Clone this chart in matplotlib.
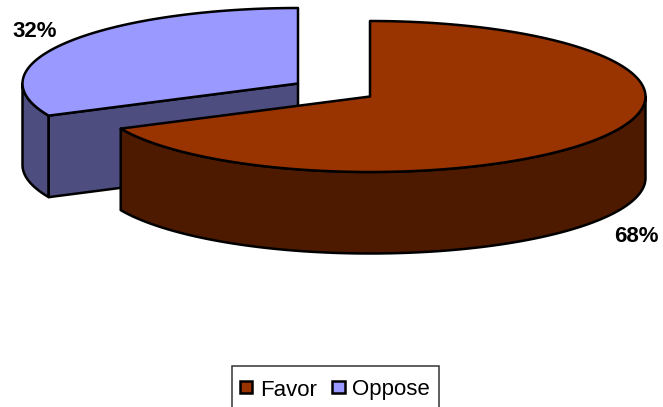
import numpy as np
import matplotlib
matplotlib.use("Agg")
import matplotlib.pyplot as plt
from matplotlib.patches import Polygon, Rectangle

categories = ["Favor", "Oppose"]
shares = [68, 32]
share_labels = ["68%", "32%"]

top_colors = ["#993300", "#9999FF"]
side_colors = ["#4D1A00", "#4D4D80"]

RX, RY, DEPTH = 275.5, 75.5, 81.5
CENTERS = [(370.0, 96.5), (298.0, 83.5)]
FONT = "Liberation Sans"
EDGE = dict(edgecolor="black", linewidth=1.8, joinstyle="round")

fig = plt.figure(figsize=(6.63, 4.07), dpi=100)
ax = fig.add_axes([0, 0, 1, 1])
ax.set_xlim(0, 663)
ax.set_ylim(407, 0)
ax.axis("off")


def rim(center, start, stop):
    """Points on the tilted pie rim; angles run clockwise from 12 o'clock."""
    t = np.radians(np.linspace(start, stop, 160))
    return np.column_stack([center[0] + RX * np.sin(t), center[1] - RY * np.cos(t)])


def lowered(points):
    return points + np.array([0, DEPTH])


def draw_slice(center, start, stop, top, side):
    # Outer wall: only the part of the rim that faces the viewer.
    lo, hi = max(start, 90), min(stop, 270)
    if hi > lo:
        arc = rim(center, lo, hi)
        ax.add_patch(Polygon(np.vstack([arc, lowered(arc)[::-1]]), facecolor=side, **EDGE))
    # Cut wall along the slice's starting edge when it faces forward.
    if 180 < start < 270:
        edge = np.array([center, rim(center, start, start)[0]])
        ax.add_patch(Polygon(np.vstack([edge, lowered(edge)[::-1]]), facecolor=side, **EDGE))
    ax.add_patch(Polygon(np.vstack([[center], rim(center, start, stop)]), facecolor=top, **EDGE))


angles = np.cumsum([0] + shares) * 360 / sum(shares)

# The rear slice goes first so the front slice overlaps it.
for i in (1, 0):
    draw_slice(CENTERS[i], angles[i], angles[i + 1], top_colors[i], side_colors[i])

label_style = dict(fontsize=16, fontweight="bold", family=FONT, color="black",
                   ha="center", va="baseline")
ax.text(636.8, 241.5, share_labels[0], **label_style)
ax.text(34.5, 37, share_labels[1], **label_style)

# Legend frame runs off the bottom of the canvas.
ax.add_patch(Rectangle((231.5, 365.5), 207.5, 60, facecolor="white",
                       edgecolor="#333333", linewidth=1.1, clip_on=True))
legend_items = [(239.8, 260), (332.3, 352)]
for (box_x, text_x), name, color in zip(legend_items, categories, top_colors):
    ax.add_patch(Rectangle((box_x, 380.8), 12.2, 12.4, facecolor=color, edgecolor="black", linewidth=1.8))
    ax.text(text_x, 395.5, name, fontsize=16, family=FONT, color="black", ha="left", va="baseline")

fig.savefig("out.png", dpi=100)
